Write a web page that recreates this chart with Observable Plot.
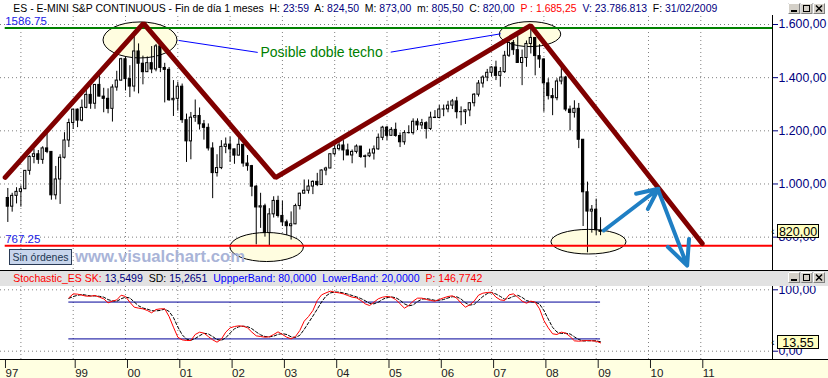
<!DOCTYPE html>
<html>
<head>
<meta charset="utf-8">
<script src="https://cdn.jsdelivr.net/npm/d3@7"></script>
<script src="https://cdn.jsdelivr.net/npm/@observablehq/plot@0.6"></script>
<style>
html,body{margin:0;padding:0;background:#fff;}
#wrap{position:relative;width:828px;height:378px;overflow:hidden;background:#fff;font-family:Arial,"Liberation Sans",sans-serif;}
#wrap > *{position:absolute;}
</style>
</head>
<body>
<div id="wrap"></div>
<script>
// ---------------- DATA ----------------
const candleMonths = [
"1997-10","1997-11","1997-12",
"1998-01","1998-02","1998-03","1998-04","1998-05","1998-06","1998-07","1998-08","1998-09","1998-10","1998-11","1998-12",
"1999-01","1999-02","1999-03","1999-04","1999-05","1999-06","1999-07","1999-08","1999-09","1999-10","1999-11","1999-12",
"2000-01","2000-02","2000-03","2000-04","2000-05","2000-06","2000-07","2000-08","2000-09","2000-10","2000-11","2000-12",
"2001-01","2001-02","2001-03","2001-04","2001-05","2001-06","2001-07","2001-08","2001-09","2001-10","2001-11","2001-12",
"2002-01","2002-02","2002-03","2002-04","2002-05","2002-06","2002-07","2002-08","2002-09","2002-10","2002-11","2002-12",
"2003-01","2003-02","2003-03","2003-04","2003-05","2003-06","2003-07","2003-08","2003-09","2003-10","2003-11","2003-12",
"2004-01","2004-02","2004-03","2004-04","2004-05","2004-06","2004-07","2004-08","2004-09","2004-10","2004-11","2004-12",
"2005-01","2005-02","2005-03","2005-04","2005-05","2005-06","2005-07","2005-08","2005-09","2005-10","2005-11","2005-12",
"2006-01","2006-02","2006-03","2006-04","2006-05","2006-06","2006-07","2006-08","2006-09","2006-10","2006-11","2006-12",
"2007-01","2007-02","2007-03","2007-04","2007-05","2007-06","2007-07","2007-08","2007-09","2007-10","2007-11","2007-12",
"2008-01","2008-02","2008-03","2008-04","2008-05","2008-06","2008-07","2008-08","2008-09","2008-10","2008-11","2008-12",
"2009-01","2009-02"];
const candleOpen = [
947.3,914.6,955.4,
970.4,980.3,1049.3,1101.8,1111.8,1090.8,1133.8,1120.7,957.3,1017.0,1098.7,1163.6,
1229.2,1279.6,1238.3,1286.4,1335.2,1301.8,1372.7,1328.7,1320.4,1282.7,1362.9,1388.9,
1469.3,1394.5,1366.4,1498.6,1452.4,1420.6,1454.6,1430.8,1517.7,1436.5,1429.4,1315.0,
1320.3,1366.0,1240.0,1160.3,1249.5,1255.8,1224.4,1211.2,1133.6,1040.9,1059.8,1139.5,
1148.1,1130.2,1106.7,1147.4,1076.9,1067.1,989.8,911.6,916.1,815.3,885.8,936.3,
879.8,855.7,841.2,848.2,916.9,963.6,974.5,990.3,1008.0,996.0,1050.7,1058.2,
1111.9,1131.1,1144.9,1126.2,1107.3,1120.7,1140.8,1101.7,1104.2,1114.6,1130.2,1173.8,
1211.9,1181.3,1203.6,1180.6,1156.9,1191.5,1191.3,1234.2,1220.3,1228.8,1207.0,1249.5,
1248.3,1280.1,1280.7,1294.8,1310.6,1270.1,1270.2,1276.7,1303.8,1335.9,1377.9,1400.6,
1418.3,1438.2,1406.8,1420.9,1482.4,1530.6,1503.4,1455.3,1474.0,1526.8,1549.4,1481.1,
1468.4,1378.6,1330.6,1322.7,1385.6,1400.4,1280.0,1267.4,1282.8,1166.4,968.8,896.2,
903.3,824.5];
const candleHigh = [
983.1,965.0,986.0,
992.7,1051.0,1106.0,1131.0,1126.0,1140.0,1191.0,1121.0,1066.0,1110.0,1193.0,1244.0,
1280.0,1282.0,1316.0,1362.0,1376.0,1373.0,1420.0,1360.0,1358.0,1373.0,1424.0,1473.0,
1478.0,1445.0,1574.0,1527.0,1481.0,1478.0,1517.0,1525.0,1530.0,1454.0,1438.0,1389.0,
1383.0,1376.0,1263.0,1269.0,1316.0,1286.0,1239.0,1226.0,1155.0,1110.0,1163.0,1173.0,
1176.0,1131.0,1173.0,1148.0,1107.0,1070.0,994.0,965.0,924.0,907.0,952.0,954.0,
935.0,864.0,895.0,924.0,965.0,1015.0,1015.0,1012.0,1040.0,1053.0,1063.0,1112.0,
1155.0,1159.0,1163.0,1150.0,1128.0,1147.0,1141.0,1109.0,1131.0,1143.0,1188.0,1217.0,
1217.0,1212.0,1229.0,1192.0,1200.0,1219.0,1245.0,1245.0,1243.0,1234.0,1270.0,1276.0,
1295.0,1297.0,1311.0,1318.0,1326.0,1290.0,1280.0,1306.0,1340.0,1389.0,1407.0,1431.0,
1441.0,1462.0,1438.0,1499.0,1535.0,1540.0,1556.0,1504.0,1538.0,1586.75,1550.0,1524.0,
1471.0,1396.0,1359.0,1396.0,1440.0,1405.0,1293.0,1313.0,1303.0,1167.0,1007.0,919.0,
943.0,873.0];
const candleLow = [
855.3,894.0,925.0,
912.8,979.0,1033.0,1076.0,1074.0,1074.0,1114.0,939.0,940.0,923.0,1094.0,1137.0,
1205.0,1212.0,1234.0,1283.0,1281.0,1281.0,1328.0,1268.0,1264.0,1233.0,1349.0,1387.0,
1350.0,1325.0,1346.0,1339.0,1373.0,1420.0,1415.0,1422.0,1419.0,1305.0,1311.0,1254.0,
1274.0,1228.0,1081.0,1091.0,1232.0,1203.0,1165.0,1124.0,944.8,1026.0,1054.0,1114.0,
1081.0,1074.0,1106.0,1063.0,1048.0,952.0,771.0,833.0,800.0,767.25,872.0,872.0,
840.0,806.0,789.0,847.0,902.0,963.0,962.0,960.0,990.0,996.0,1031.0,1058.0,
1105.0,1124.0,1087.0,1107.0,1076.0,1113.0,1096.0,1060.0,1099.0,1090.0,1127.0,1163.0,
1163.0,1180.0,1176.0,1137.0,1146.0,1188.0,1184.0,1201.0,1205.0,1169.0,1201.0,1246.0,
1245.0,1253.0,1268.0,1280.0,1245.0,1219.0,1224.0,1253.0,1290.0,1327.0,1361.0,1385.0,
1403.0,1389.0,1364.0,1416.0,1476.0,1484.0,1454.0,1370.0,1439.0,1489.0,1407.0,1435.0,
1270.0,1316.0,1257.0,1313.0,1373.0,1272.0,1200.0,1248.0,1133.0,840.0,741.0,815.0,
805.0,805.5];
const candleClose = [
914.6,955.4,970.4,
980.3,1049.3,1101.8,1111.8,1090.8,1133.8,1120.7,957.3,1017.0,1098.7,1163.6,1229.2,
1279.6,1238.3,1286.4,1335.2,1301.8,1372.7,1328.7,1320.4,1282.7,1362.9,1388.9,1469.3,
1394.5,1366.4,1498.6,1452.4,1420.6,1454.6,1430.8,1517.7,1436.5,1429.4,1315.0,1320.3,
1366.0,1240.0,1160.3,1249.5,1255.8,1224.4,1211.2,1133.6,1040.9,1059.8,1139.5,1148.1,
1130.2,1106.7,1147.4,1076.9,1067.1,989.8,911.6,916.1,815.3,885.8,936.3,879.8,
855.7,841.2,848.2,916.9,963.6,974.5,990.3,1008.0,996.0,1050.7,1058.2,1111.9,
1131.1,1144.9,1126.2,1107.3,1120.7,1140.8,1101.7,1104.2,1114.6,1130.2,1173.8,1211.9,
1181.3,1203.6,1180.6,1156.9,1191.5,1191.3,1234.2,1220.3,1228.8,1207.0,1249.5,1248.3,
1280.1,1280.7,1294.8,1310.6,1270.1,1270.2,1276.7,1303.8,1335.9,1377.9,1400.6,1418.3,
1438.2,1406.8,1420.9,1482.4,1530.6,1503.4,1455.3,1474.0,1526.8,1549.4,1481.1,1468.4,
1378.6,1330.6,1322.7,1385.6,1400.4,1280.0,1267.4,1282.8,1166.4,968.8,896.2,903.3,
825.9,820.0];

// Stochastic (starts Dec 1998)
const stochFirstMonth = "1998-12";
const stochSK = [
86.9,
93.4,92.9,91.2,89.6,89.6,90.7,88.0,85.3,78.8,81.5,83.6,91.2,
89.1,79.8,71.7,70.1,69.0,66.3,62.5,67.9,69.0,69.0,56.5,39.1,
22.8,18.5,17.4,17.4,27.2,31.0,29.4,23.9,18.5,14.7,19.6,31.0,
38.0,40.2,41.3,40.7,38.0,31.0,25.0,23.9,22.8,23.4,27.2,31.5,
27.2,22.8,20.1,23.9,33.7,48.9,56.5,66.3,82.6,91.8,95.0,97.8,
96.1,95.0,93.4,90.7,88.0,86.9,82.6,77.1,74.4,79.8,85.3,88.0,
89.1,88.0,84.2,77.1,70.1,74.4,81.5,86.4,86.4,84.2,82.6,81.5,
84.2,86.9,89.1,90.2,86.4,78.2,71.7,75.5,81.5,91.2,94.5,95.6,
96.1,88.0,83.6,82.6,91.8,93.4,88.0,81.5,78.2,81.5,79.8,69.0,
50.0,38.0,28.3,27.2,31.0,29.4,23.9,16.9,16.3,16.9,17.4,16.9,
16.3,13.55];
const stochSD = [
86.0,
89.0,91.0,92.5,91.2,90.1,90.0,89.4,88.0,84.0,81.9,81.3,85.4,
88.0,86.7,80.2,73.9,70.3,68.5,66.0,65.6,66.5,68.6,64.8,54.9,
39.5,26.8,19.6,17.8,20.7,25.2,29.2,28.1,23.9,19.0,17.6,21.8,
29.5,36.4,39.8,40.7,40.0,36.6,31.3,26.6,23.9,23.4,24.5,27.4,
28.6,27.2,23.4,22.3,25.9,35.5,46.4,57.2,68.5,80.2,89.8,94.9,
96.3,96.3,94.8,93.0,90.7,88.5,85.8,82.2,78.0,77.1,79.8,84.4,
87.5,88.4,87.1,83.1,77.1,73.9,75.3,80.8,84.8,85.7,84.4,82.8,
82.8,84.2,86.7,88.7,88.6,84.9,78.8,75.1,76.2,82.7,89.1,93.8,
95.4,93.2,89.2,84.7,86.0,89.3,91.1,87.6,82.6,80.4,79.8,76.8,
66.3,52.3,38.8,31.2,28.8,29.2,28.1,23.4,19.0,16.7,16.9,17.1,
16.9,15.27];
const stochBandValues = [80, 20];
const stochTicks = [0, 100];

// axes
const priceTicks = [800, 1000, 1200, 1400, 1600];
const gridYears = [1998,1999,2000,2001,2002,2003,2004,2005,2006,2007,2008,2009,2010,2011];
const tickYears = [1997.667,1999,2000,2001,2002,2003,2004,2005,2006,2007,2008,2009,2010,2011];
const tickLabels = ["97","99","00","01","02","03","04","05","06","07","08","09","10","11"];

// horizontal levels
const levelNames = ["1586.75", "767.25"];
const levelValues = [1586.75, 767.25];
const levelColors = ["#008000", "#ff0000"];
const levelStart = 1997.70;

// maroon trend lines (double top)
const trendDates = [1997.70, 2000.344, 2002.869, 2007.744, 2011.027];
const trendValues = [1025, 1604, 1024, 1596, 776];

// highlight ellipses
const ellipseDates = [2000.287, 2007.744, 2002.709, 2008.862];
const ellipseValues = [1540, 1562, 761, 781];
const ellipseHalfYears = [0.707, 0.587, 0.702, 0.717];
const ellipseHalfValues = [67.7, 47, 54.6, 46.3];

// note pointers
const noteText = "Posible doble techo";
const noteDate = 2002.581, noteValue = 1495;
const pointerFromDates = [2001.017, 2005.071];
const pointerFromValues = [1540, 1496];
const pointerToDates = [2002.528, 2007.174];
const pointerToValues = [1495, 1565];

// blue arrows
const arrowFromDates = [2009.145, 2010.19];
const arrowFromValues = [825, 975];
const arrowToDates = [2010.19, 2010.739];
const arrowToValues = [982, 693];

const lastClose = 820;
const lastSK = 13.55;

// ---------------- BUILD ----------------
const navy = "#000080";
const fmt2 = d3.formatLocale({decimal: ",", thousands: ".", grouping: [3], currency: ["", ""]}).format(",.2f");
const toT = s => { const [y, m] = s.split("-").map(Number); return y + (m - 1) / 12; };
const candles = candleMonths.map((m, i) => ({t: toT(m), open: candleOpen[i], high: candleHigh[i], low: candleLow[i], close: candleClose[i]}));
const s0 = candleMonths.indexOf(stochFirstMonth);
const stoch = stochSK.map((v, i) => ({t: toT(candleMonths[s0 + i]), sk: v, sd: stochSD[i]}));
const levels = levelValues.map((v, i) => ({v, name: levelNames[i], color: levelColors[i], start: levelStart}));
const trend = trendDates.map((t, i) => ({t, v: trendValues[i]}));
const ellipses = ellipseDates.map((t, i) => ({t, v: ellipseValues[i], rt: ellipseHalfYears[i], rv: ellipseHalfValues[i]}));
const pointers = pointerFromDates.map((t, i) => ({x1: t, y1: pointerFromValues[i], x2: pointerToDates[i], y2: pointerToValues[i]}));
const arrows = arrowFromDates.map((t, i) => ({x1: t, y1: arrowFromValues[i], x2: arrowToDates[i], y2: arrowToValues[i]}));
const bands = stochBandValues.map(v => ({v, x1: stoch[0].t, x2: stoch[stoch.length - 1].t}));
const tickLabelOf = new Map(tickYears.map((t, i) => [t, tickLabels[i]]));

const xDomain = [1997.61, 2012.371];
const font = "Arial, 'Liberation Sans', sans-serif";
const dotted = {stroke: "#808080", strokeDasharray: "1,3", strokeWidth: 1};

function ellipseMark(data) {
  return (index, scales) => {
    const g = d3.create("svg:g");
    for (const e of data) {
      const cx = scales.x(e.t), cy = scales.y(e.v);
      const rx = Math.abs(scales.x(e.t + e.rt) - cx), ry = Math.abs(scales.y(e.v + e.rv) - cy);
      g.append("ellipse").attr("cx", cx).attr("cy", cy).attr("rx", rx).attr("ry", ry)
        .attr("fill", "#FFFDE0").attr("stroke", "#000").attr("stroke-width", 1);
    }
    return g.node();
  };
}
function valueBox(value, label) {
  return (index, scales, values, dims) => {
    const y = scales.y(value);
    const x0 = dims.width - dims.marginRight;
    const g = d3.create("svg:g");
    g.append("text").attr("x", x0 + 1).attr("y", y).attr("dy", "0.35em").attr("font-size", 10).attr("fill", "#000").text("‹");
    g.append("rect").attr("x", x0 + 5.5).attr("y", Math.round(y) - 6.5).attr("width", 41).attr("height", 13)
      .attr("fill", "#FFFFC0").attr("stroke", "#000");
    g.append("text").attr("x", x0 + 26).attr("y", Math.round(y)).attr("dy", "0.36em").attr("text-anchor", "middle")
      .attr("font-size", 12.5).attr("fill", "#000").text(label);
    return g.node();
  };
}

const main = Plot.plot({
  width: 828, height: 254, marginLeft: 0, marginRight: 56, marginTop: 0, marginBottom: 0,
  x: {domain: xDomain, axis: null},
  y: {domain: [674.5, 1630.1]},
  color: {type: "identity"},
  style: {background: "transparent", fontFamily: font, fontSize: "12px"},
  marks: [
    Plot.ruleX(gridYears, dotted),
    Plot.ruleY(priceTicks, {...dotted, x1: xDomain[0], x2: xDomain[1]}),
    ellipseMark(ellipses),
    Plot.ruleX(candles, {x: "t", y1: "low", y2: "high", stroke: "#000", strokeWidth: 1}),
    Plot.rect(candles, {x1: d => d.t - 0.021, x2: d => d.t + 0.021, y1: "open", y2: "close",
      fill: d => d.close >= d.open ? "#fff" : "#000", stroke: "#000", strokeWidth: 1}),
    Plot.ruleY(levels, {y: "v", x1: "start", x2: () => xDomain[1], stroke: "color", strokeWidth: 2}),
    Plot.text(levels, {x: "start", y: "v", text: "name", fill: "#1a1aE6", textAnchor: "start", lineAnchor: "bottom", dy: -3, dx: 0, fontSize: 11.5}),
    Plot.link(pointers, {x1: "x1", y1: "y1", x2: "x2", y2: "y2", stroke: "#0000ff", strokeWidth: 1}),
    Plot.text([noteText], {x: noteDate, y: noteValue, text: d => d, fill: "#008000", fontSize: 14, textAnchor: "start", lineAnchor: "middle"}),
    Plot.line(trend, {x: "t", y: "v", stroke: "#800000", strokeWidth: 5, strokeLinejoin: "miter"}),
    Plot.arrow(arrows, {x1: "x1", y1: "y1", x2: "x2", y2: "y2", stroke: "#1f7fc4", strokeWidth: 4, headLength: 14, headAngle: 50}),
    Plot.axisY(priceTicks, {anchor: "right", tickSize: 5, tickPadding: 1, tickFormat: fmt2, color: navy, fontSize: 12.3, textAnchor: "start"}),
    valueBox(lastClose, fmt2(lastClose))
  ]
});

const stochPlot = Plot.plot({
  width: 828, height: 92, marginLeft: 0, marginRight: 56, marginTop: 0, marginBottom: 19,
  x: {domain: xDomain},
  y: {domain: [-13.52, 105.37]},
  style: {background: "transparent", fontFamily: font, fontSize: "12px"},
  marks: [
    Plot.ruleX(gridYears, dotted),
    Plot.ruleY(stochTicks, {...dotted, x1: xDomain[0], x2: xDomain[1]}),
    Plot.ruleY(bands, {y: "v", x1: "x1", x2: "x2", stroke: "#000098", strokeWidth: 1}),
    Plot.line(stoch, {x: "t", y: "sd", stroke: "#000", strokeWidth: 1, strokeDasharray: "3,2"}),
    Plot.line(stoch, {x: "t", y: "sk", stroke: "#ff0000", strokeWidth: 1}),
    Plot.axisY(stochTicks, {anchor: "right", tickSize: 5, tickPadding: 1, tickFormat: fmt2, color: navy, fontSize: 12.3, textAnchor: "start"}),
    Plot.axisX(tickYears, {anchor: "bottom", tickSize: 9, tickPadding: 0, textAnchor: "start", dx: 2, tickFormat: d => tickLabelOf.get(d), color: "#202020", fontSize: 11.5}),
    valueBox(lastSK, fmt2(lastSK))
  ]
});

// ---------------- LAYOUT ----------------
const wrap = document.getElementById("wrap");
function div(style) { const d = document.createElement("div"); d.style.cssText = "position:absolute;" + style; wrap.appendChild(d); return d; }

div("left:0;top:359px;width:828px;height:19px;background:#FFFFE1;");
div("left:0;top:271px;width:828px;height:15px;background:#E2E2E2;");

main.style.position = "absolute"; main.style.left = "0px"; main.style.top = "16px";
wrap.appendChild(main);
stochPlot.style.position = "absolute"; stochPlot.style.left = "0px"; stochPlot.style.top = "286px";
wrap.appendChild(stochPlot);

div("left:0;top:270px;width:828px;height:1px;background:#000;");
div("left:0;top:359px;width:828px;height:1px;background:#000;");
div("left:772px;top:15px;width:1px;height:255px;background:#000;");
div("left:772px;top:286px;width:1px;height:73px;background:#000;");

// overlay svg for texts, buttons, watermark
const ov = d3.select(wrap).append("svg").attr("width", 828).attr("height", 378)
  .style("position", "absolute").style("left", "0px").style("top", "0px").style("pointer-events", "none")
  .style("white-space", "pre").attr("font-family", font);

function header(y, len, parts) {
  const t = ov.append("text").attr("x", 13.3).attr("y", y).attr("font-size", 11)
    .attr("textLength", len).attr("lengthAdjust", "spacingAndGlyphs").attr("xml:space", "preserve");
  for (const [s, c] of parts) t.append("tspan").attr("fill", c).text(s);
}
header(11.5, 704, [
  ["ES - E-MINI S&P CONTINUOUS - Fin de día 1 meses  ", "#000"], ["H: ", "#000"], ["23:59", navy],
  ["  A: ", "#000"], ["824,50", navy], ["  M: ", "#000"], ["873,00", navy],
  ["  m: ", "#000"], ["805,50", navy], ["  C: ", "#000"], ["820,00", navy],
  ["  P : 1.685,25", "#ff0000"], ["  V: 23.786.813", navy], ["  F: ", "#000"], ["31/02/2009", navy]
]);
header(281.7, 469, [
  ["Stochastic_ES SK: ", "#ff0000"], ["13,5499", navy], ["  SD: ", "#000"], ["15,2651", navy],
  ["  UppperBand: 80,0000", "#0000ff"], ["  LowerBand: 20,0000", "#0000ff"], ["  P: 146,7742", "#ff0000"]
]);

function buttons(y) {
  const xs = [788, 800.5, 813];
  xs.forEach((x, i) => {
    ov.append("rect").attr("x", x + 0.5).attr("y", y + 0.5).attr("width", 11).attr("height", 10)
      .attr("fill", "#D4D0C8").attr("stroke", "#808080");
    ov.append("line").attr("x1", x + 0.5).attr("y1", y + 0.5).attr("x2", x + 11.5).attr("y2", y + 0.5).attr("stroke", "#fff");
    ov.append("line").attr("x1", x + 0.5).attr("y1", y + 0.5).attr("x2", x + 0.5).attr("y2", y + 10.5).attr("stroke", "#fff");
    if (i === 0) ov.append("rect").attr("x", x + 3).attr("y", y + 7).attr("width", 6).attr("height", 2).attr("fill", "#000");
    if (i === 1) ov.append("rect").attr("x", x + 3).attr("y", y + 2.5).attr("width", 6).attr("height", 6).attr("fill", "none").attr("stroke", "#000").attr("stroke-width", 1);
    if (i === 2) {
      ov.append("path").attr("d", `M${x + 3},${y + 2.5}L${x + 9},${y + 8.5}M${x + 9},${y + 2.5}L${x + 3},${y + 8.5}`).attr("stroke", "#000").attr("stroke-width", 1.5);
    }
  });
}
buttons(3);
buttons(272);

// "Sin órdenes" button and watermark
ov.append("rect").attr("x", 9.5).attr("y", 249.5).attr("width", 62).attr("height", 15)
  .attr("fill", "#C7D5EC").attr("stroke", "#2a3a55");
ov.append("text").attr("x", 40.5).attr("y", 261).attr("text-anchor", "middle").attr("font-size", 11)
  .attr("fill", "#1c3550").attr("textLength", 56).attr("lengthAdjust", "spacingAndGlyphs").text("Sin órdenes");
ov.append("text").attr("x", 75).attr("y", 261.5).attr("font-size", 16.6).attr("font-weight", "bold")
  .attr("fill", "#A9B4D8").attr("textLength", 170).attr("lengthAdjust", "spacingAndGlyphs").text("www.visualchart.com");
</script>
</body>
</html>
